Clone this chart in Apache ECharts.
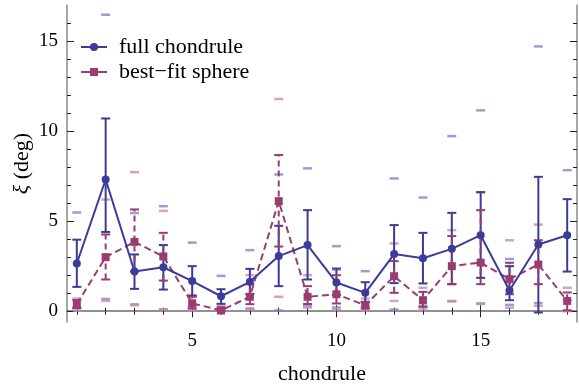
<!DOCTYPE html>
<html><head><meta charset="utf-8">
<script src="https://cdn.jsdelivr.net/npm/echarts@6/dist/echarts.min.js"></script>
<style>html,body{margin:0;padding:0;background:#fff}#c{width:579px;height:387px}</style>
</head><body><div id="c"></div>
<script>
const chondrules = [1,2,3,4,5,6,7,8,9,10,11,12,13,14,15,16,17,18];
// full chondrule
const fullVal = [2.65,7.31,2.20,2.44,1.67,0.83,1.63,3.06,3.67,1.59,1.02,3.17,2.94,3.46,4.22,1.15,3.70,4.22];
const fullLo  = [1.35,4.40,1.24,1.20,0.85,0.41,0.95,1.39,1.76,0.90,0.52,1.56,1.54,1.50,1.85,0.61,-0.07,2.20];
const fullHi  = [3.97,10.70,3.15,3.67,2.50,1.22,2.35,4.74,5.61,2.37,1.61,4.78,4.35,5.46,6.61,2.50,7.46,6.22];
const fullDLo = [0.20,0.68,0.38,0.10,0.25,0.10,0.15,0.04,0.30,0.20,0.25,0.09,0.30,0.55,0.43,0.35,0.45,0.60];
const fullDHi = [5.48,16.46,5.45,5.83,3.81,1.96,3.39,7.59,7.93,3.61,2.22,7.37,6.31,9.72,11.15,2.90,14.70,7.83];
// best-fit sphere
const sphVal = [0.39,3.00,3.85,3.04,0.44,0.04,0.80,6.11,0.80,0.94,0.33,1.94,0.61,2.50,2.70,1.78,2.59,0.57];
const sphLo  = [0.18,1.76,2.20,1.70,0.15,0.00,0.39,3.59,0.40,0.43,0.15,1.02,0.24,1.50,1.50,0.94,1.50,0.05];
const sphHi  = [0.62,4.26,5.65,4.35,0.80,0.20,1.50,8.67,1.39,2.00,0.50,2.78,1.07,4.17,5.61,2.69,3.94,1.04];
const sphDLo = [0.05,0.57,0.33,0.11,0.05,0.02,0.10,0.80,0.20,0.10,0.05,0.57,0.10,0.57,0.40,0.19,0.30,0.00];
const sphDHi = [0.70,6.20,7.72,5.57,0.90,0.30,2.00,11.78,2.00,2.30,0.70,3.76,1.30,4.50,6.60,3.94,4.81,1.30];
const xMajor = [5,10,15];
const yMajor = [0,5,10,15];
const seriesNames = ['full chondrule','best\u2212fit sphere'];

const BLUE = '#3b3b9a', PURPLE = '#993c70', LBLUE = '#8484cc', LPURPLE = '#c98cac';
const FONT = 'Liberation Serif';
const xMinor = chondrules.filter(v => !xMajor.includes(v));
const yMinor = [1,2,3,4,6,7,8,9,11,12,13,14,16];

function errBars(lo, hi, color, dashed) {
  return {
    type: 'custom', z: 3, silent: true,
    data: chondrules.map((c,i) => [c, lo[i], hi[i]]),
    renderItem: function (params, api) {
      const x = api.value(0);
      const a = api.coord([x, api.value(1)]);
      const b = api.coord([x, api.value(2)]);
      const w = 4.5;
      const st = {stroke: color, lineWidth: 2, lineDash: dashed ? [6,4] : null};
      const cst = {stroke: color, lineWidth: 2};
      return {type: 'group', children: [
        {type: 'line', shape: {x1: a[0], y1: a[1], x2: b[0], y2: b[1]}, style: st},
        {type: 'line', shape: {x1: a[0]-w, y1: a[1], x2: a[0]+w, y2: a[1]}, style: cst},
        {type: 'line', shape: {x1: b[0]-w, y1: b[1], x2: b[0]+w, y2: b[1]}, style: cst}
      ]};
    }
  };
}
function dashes(lo, hi, color) {
  return {
    type: 'scatter', z: 2, silent: true, symbol: 'rect', symbolSize: [9, 2.5],
    itemStyle: {color: color},
    data: chondrules.map((c,i) => [c, lo[i]]).concat(chondrules.map((c,i) => [c, hi[i]]))
  };
}
function xAx(pos, vals, len, main) {
  return {
    type: 'value', position: pos, min: 0.66, max: 18.34,
    axisLine: {show: main, lineStyle: {color: '#8a8a8a', width: 1.5}},
    axisTick: {show: true, inside: true, length: len, customValues: vals, lineStyle: {color: '#222', width: 1}},
    axisLabel: {show: main && pos === 'bottom', customValues: xMajor, margin: 10, color: '#000', fontFamily: FONT, fontSize: 19},
    splitLine: {show: false},
    name: (main && pos === 'bottom') ? 'chondrule' : '',
    nameLocation: 'middle', nameGap: 41,
    nameTextStyle: {fontFamily: FONT, fontSize: 22, color: '#000'}
  };
}
function yAx(pos, vals, len, main) {
  return {
    type: 'value', position: pos, min: -0.6, max: 17.0,
    axisLine: {show: main, lineStyle: {color: '#8a8a8a', width: 1.5}},
    axisTick: {show: true, inside: true, length: len, customValues: vals, lineStyle: {color: '#222', width: 1}},
    axisLabel: {show: main && pos === 'left', customValues: yMajor, margin: 9, color: '#000', fontFamily: FONT, fontSize: 19},
    splitLine: {show: false},
    name: (main && pos === 'left') ? '{i|\u03be} (deg)' : '',
    nameLocation: 'middle', nameGap: 34, nameMoveOverlap: false,
    nameTextStyle: {fontFamily: FONT, fontSize: 22, color: '#000', rich: {i: {fontFamily: FONT, fontStyle: 'italic', fontSize: 22}}}
  };
}

const chart = echarts.init(document.getElementById('c'), null, {renderer: 'canvas'});
chart.setOption({
  animation: false,
  backgroundColor: '#fff',
  grid: {left: 67, right: 2, top: 5, bottom: 65, containLabel: false, outerBoundsMode: 'none'},
  xAxis: [xAx('bottom', xMajor, 6, true), xAx('bottom', xMinor, 3.5, false), xAx('top', xMajor, 6, true), xAx('top', xMinor, 3.5, false)],
  yAxis: [yAx('left', yMajor, 7, true), yAx('left', yMinor, 4, false), yAx('right', yMajor, 7, true), yAx('right', yMinor, 4, false)],
  legend: {
    orient: 'vertical', left: 80, top: 36, padding: 0, itemWidth: 26, itemHeight: 10, itemGap: 3,
    textStyle: {fontFamily: FONT, fontSize: 22, color: '#000', padding: [0,0,0,7]},
    data: [
      {name: seriesNames[0]},
      {name: seriesNames[1], lineStyle: {type: 'solid'}}
    ]
  },
  series: [
    dashes(fullDLo, fullDHi, LBLUE),
    dashes(sphDLo, sphDHi, LPURPLE),
    errBars(fullLo, fullHi, BLUE, false),
    errBars(sphLo, sphHi, PURPLE, true),
    {
      name: seriesNames[0], type: 'line', z: 5,
      data: chondrules.map((c,i) => [c, fullVal[i]]),
      symbol: 'circle', symbolSize: 8,
      itemStyle: {color: BLUE}, lineStyle: {color: BLUE, width: 2}
    },
    {
      name: seriesNames[1], type: 'line', z: 4,
      data: chondrules.map((c,i) => [c, sphVal[i]]),
      symbol: 'rect', symbolSize: 8,
      itemStyle: {color: PURPLE}, lineStyle: {color: PURPLE, width: 2, type: [7,4]}
    }
  ]
});
</script></body></html>
